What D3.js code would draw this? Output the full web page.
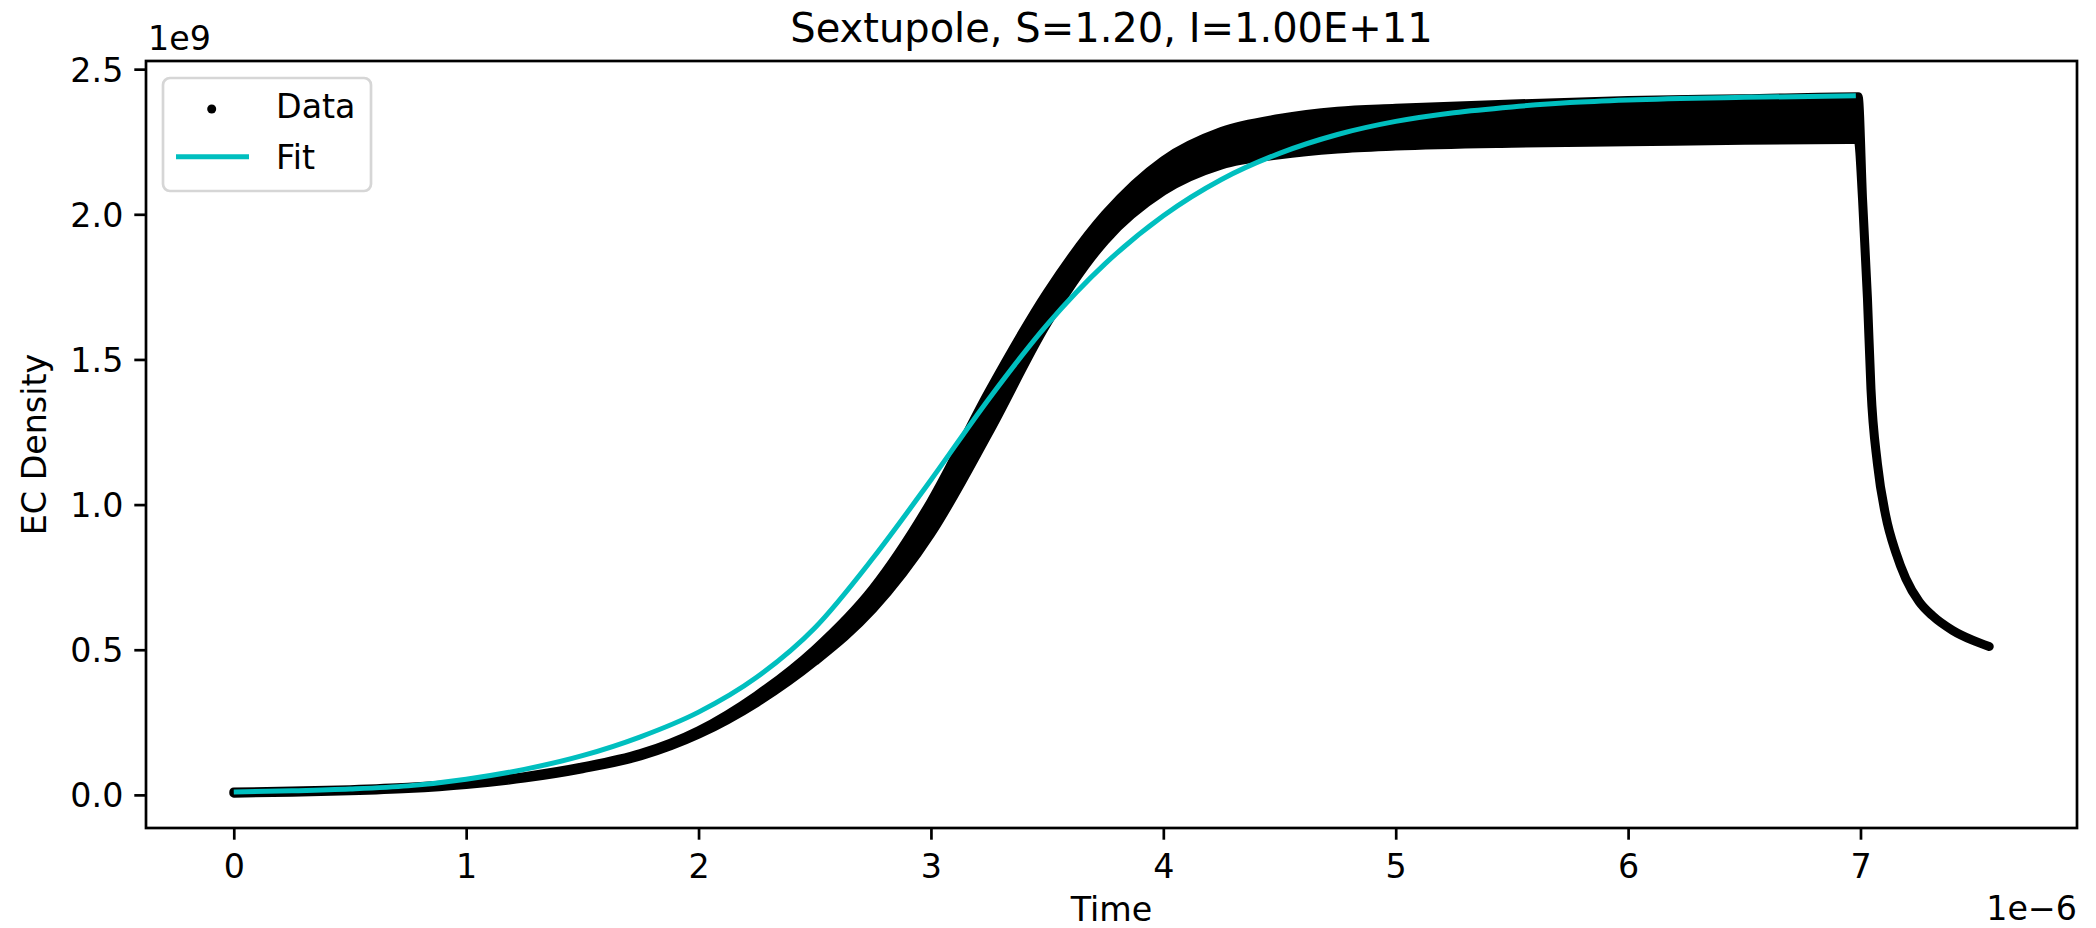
<!DOCTYPE html>
<html>
<head>
<meta charset="utf-8">
<script src="https://cdn.jsdelivr.net/npm/d3@7"></script>
<style>
  body { margin: 0; background: #fff; }
  text { font-family: "DejaVu Sans", sans-serif; fill: #000; }
</style>
</head>
<body>
<svg id="chart"></svg>
<script>
// time in units of 1e-6 s, density in units of 1e9 (as the axis offsets show)

// data band: lower / upper envelope of the scattered points
var dataTime = [0, 0.25, 0.5, 0.75, 1.0, 1.25, 1.5, 1.75, 2.0, 2.25, 2.5, 2.75, 3.0, 3.25, 3.5, 3.75,
    4.0, 4.25, 4.5, 4.75, 5.0, 5.5, 6.0, 6.5, 6.99,
    7.009, 7.030, 7.045, 7.073, 7.109, 7.152, 7.195, 7.253, 7.310, 7.396, 7.482, 7.554]
var dataLow = [0.006, 0.009, 0.014, 0.022, 0.036, 0.058, 0.090, 0.134, 0.209, 0.318, 0.460, 0.640, 0.900, 1.250, 1.625, 1.910,
    2.080, 2.170, 2.205, 2.225, 2.235, 2.245, 2.250, 2.255, 2.258,
    2.050, 1.710, 1.400, 1.140, 0.960, 0.835, 0.745, 0.665, 0.617, 0.567, 0.533, 0.511]
var dataHigh = [0.010, 0.013, 0.018, 0.026, 0.040, 0.063, 0.096, 0.142, 0.221, 0.342, 0.500, 0.710, 1.010, 1.390, 1.730, 2.000,
    2.185, 2.285, 2.330, 2.355, 2.365, 2.380, 2.392, 2.398, 2.405,
    2.050, 1.710, 1.400, 1.140, 0.960, 0.835, 0.745, 0.665, 0.617, 0.567, 0.533, 0.511]

// fitted curve
var fitTime = [0, 0.25, 0.5, 0.75, 1.0, 1.25, 1.5, 1.75, 2.0, 2.25, 2.5, 2.75, 3.0, 3.25, 3.5, 3.75,
    4.0, 4.25, 4.5, 4.75, 5.0, 5.25, 5.5, 5.75, 6.0, 6.5, 6.98]
var fitValue = [0.010, 0.014, 0.020, 0.031, 0.054, 0.088, 0.135, 0.200, 0.285, 0.405, 0.575, 0.815, 1.085, 1.365, 1.620, 1.830,
    1.995, 2.120, 2.210, 2.275, 2.320, 2.350, 2.370, 2.385, 2.394, 2.403, 2.408]

var xTicks = [0, 1, 2, 3, 4, 5, 6, 7]
var yTicks = [0.0, 0.5, 1.0, 1.5, 2.0, 2.5]
var titleText = "Sextupole, S=1.20, I=1.00E+11"

var W = 2096, H = 928
var margin = {top: 61, right: 19, bottom: 100, left: 146},
    width = W - margin.left - margin.right,
    height = H - margin.top - margin.bottom

var svg = d3.select("#chart").attr("width", W).attr("height", H)
svg.append("rect").attr("width", W).attr("height", H).attr("fill", "#fff")

var g = svg.append("g").attr("transform", "translate(" + margin.left + "," + margin.top + ")")

// matplotlib-like 5% margins
var xMin = d3.min(dataTime), xMax = d3.max(dataTime)
var yMin = Math.min(d3.min(dataLow), d3.min(fitValue)), yMax = Math.max(d3.max(dataHigh), d3.max(fitValue))
var xPad = (xMax - xMin) * 0.05, yPad = (yMax - yMin) * 0.05

var x = d3.scaleLinear().domain([xMin - xPad, xMax + xPad]).range([0, width])
var y = d3.scaleLinear().domain([yMin - yPad, yMax + yPad]).range([height, 0])

var band = dataTime.map(function(t, i) { return {t: t, lo: dataLow[i], hi: dataHigh[i]} })
var fit = fitTime.map(function(t, i) { return {t: t, v: fitValue[i]} })

// data points (drawn as a dense band of dots)
g.append("path")
    .datum(band)
    .attr("d", d3.area()
        .x(function(d) { return x(d.t) })
        .y0(function(d) { return y(d.lo) })
        .y1(function(d) { return y(d.hi) })
        .curve(d3.curveMonotoneX))
    .attr("fill", "#000")
    .attr("stroke", "#000")
    .attr("stroke-width", 9)
    .attr("stroke-linejoin", "round")

// fit
g.append("path")
    .datum(fit)
    .attr("d", d3.line()
        .x(function(d) { return x(d.t) })
        .y(function(d) { return y(d.v) })
        .curve(d3.curveMonotoneX))
    .attr("fill", "none")
    .attr("stroke", "#00bfbf")
    .attr("stroke-width", 5)

// axes
var fs = 33.3
var xAxis = g.append("g")
    .attr("transform", "translate(0," + height + ")")
    .call(d3.axisBottom(x).tickValues(xTicks).tickFormat(d3.format("d")).tickSize(11.7).tickPadding(11))
var yAxis = g.append("g")
    .call(d3.axisLeft(y).tickValues(yTicks).tickFormat(d3.format(".1f")).tickSize(11.7).tickPadding(11))

;[xAxis, yAxis].forEach(function(a) {
    a.select(".domain").remove()
    a.selectAll(".tick line").attr("stroke", "#000").attr("stroke-width", 2.7)
    a.selectAll(".tick text").style("font-size", fs + "px").attr("font-family", null)
})
xAxis.selectAll(".tick text").attr("dy", null).attr("y", 50.3)
yAxis.selectAll(".tick text").attr("dy", "0.36em")

// frame
g.append("rect")
    .attr("width", width).attr("height", height)
    .attr("fill", "none").attr("stroke", "#000").attr("stroke-width", 2.7)

// offset texts
svg.append("text").attr("x", margin.left + 2).attr("y", 50)
    .style("font-size", fs + "px").text("1e9")
svg.append("text").attr("x", margin.left + width).attr("y", 920)
    .attr("text-anchor", "end").style("font-size", fs + "px").text("1e\u22126")

// labels
svg.append("text").attr("x", margin.left + width / 2).attr("y", 921)
    .attr("text-anchor", "middle").style("font-size", fs + "px").text("Time")
svg.append("text")
    .attr("transform", "translate(46," + (margin.top + height / 2) + ") rotate(-90)")
    .attr("text-anchor", "middle").style("font-size", fs + "px").text("EC Density")
svg.append("text").attr("x", margin.left + width / 2).attr("y", 42)
    .attr("text-anchor", "middle").style("font-size", "40px").text(titleText)

// legend
var legend = svg.append("g").attr("transform", "translate(163,78)")
legend.append("rect")
    .attr("width", 208).attr("height", 113).attr("rx", 7)
    .attr("fill", "#fff").attr("fill-opacity", 0.8)
    .attr("stroke", "#d6d6d6").attr("stroke-width", 2.7)
legend.append("circle").attr("cx", 48.7).attr("cy", 31).attr("r", 4.5).attr("fill", "#000")
legend.append("text").attr("x", 113).attr("y", 40.3).style("font-size", fs + "px").text("Data")
legend.append("line").attr("x1", 13).attr("x2", 86).attr("y1", 78.7).attr("y2", 78.7)
    .attr("stroke", "#00bfbf").attr("stroke-width", 5)
legend.append("text").attr("x", 113).attr("y", 91).style("font-size", fs + "px").text("Fit")
</script>
</body>
</html>
